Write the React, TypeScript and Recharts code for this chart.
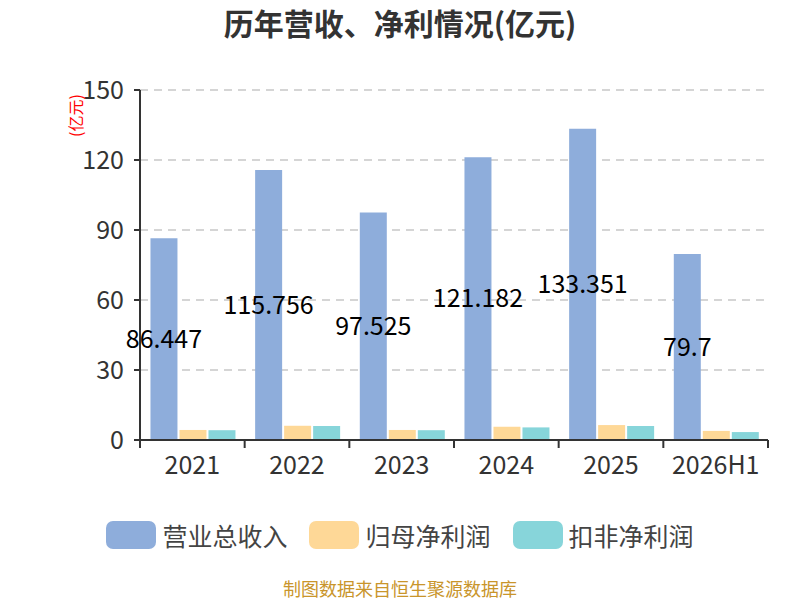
import React from "react";
import { BarChart, Bar, XAxis, YAxis, CartesianGrid, LabelList } from "recharts";

const categories = ["2021", "2022", "2023", "2024", "2025", "2026H1"];
const revenue = [86.447, 115.756, 97.525, 121.182, 133.351, 79.7];
const netProfit = [4.3, 6.1, 4.3, 5.7, 6.4, 3.9];
const deductedProfit = [4.2, 6.0, 4.2, 5.4, 6.0, 3.4];
const yTicks = [0, 30, 60, 90, 120, 150];

const seriesNames = ["营业总收入", "归母净利润", "扣非净利润"];
const colors = ["#8eaddb", "#fed897", "#87d5da"];

const data = categories.map((c, i) => ({
  name: c,
  rev: revenue[i],
  np: netProfit[i],
  dp: deductedProfit[i],
}));

const FONT = "'Noto Sans CJK SC', sans-serif";
const CJK = "'Noto Sans CJK SC', sans-serif";

const XTick = (props: any) => {
  const { x, y, payload, index } = props;
  const off = payload && typeof payload.offset === "number" ? payload.offset : 52.3;
  const last = index === categories.length - 1;
  return (
    <g>
      <line x1={x - off} x2={x - off} y1={y - 8} y2={y} stroke="#333" strokeWidth={2} />
      {last && <line x1={x + off} x2={x + off} y1={y - 8} y2={y} stroke="#333" strokeWidth={2} />}
      <text x={x} y={y + 26} textAnchor="middle" fill="#333" fontSize={25} fontFamily={FONT}>
        {payload.value}
      </text>
    </g>
  );
};

export default function App() {
  return (
    <div style={{ position: "absolute", left: 0, top: 0, width: 800, height: 600, background: "#fff" }}>
      <div
        style={{
          position: "absolute",
          top: 2,
          width: 800,
          textAlign: "center",
          fontFamily: CJK,
          fontWeight: "bold",
          fontSize: 30,
          lineHeight: "40px",
          color: "#333",
        }}
      >
        历年营收、净利情况(亿元)
      </div>
      <BarChart
        width={800}
        height={600}
        data={data}
        margin={{ top: 90, right: 32, bottom: 100, left: 0 }}
        barCategoryGap="10%"
        barGap={2}
      >
        <CartesianGrid vertical={false} stroke="#c8c8c8" strokeDasharray="8 6" strokeWidth={1.5} />
        <XAxis
          dataKey="name"
          tick={<XTick />}
          tickLine={false}
          axisLine={{ stroke: "#333", strokeWidth: 2 }}
          interval={0}
          height={60}
        />
        <YAxis
          width={140}
          domain={[0, 150]}
          ticks={yTicks}
          interval={0}
          tickLine={{ stroke: "#333", strokeWidth: 2 }}
          tickSize={6}
          tickMargin={10}
          axisLine={{ stroke: "#333", strokeWidth: 2 }}
          tick={{ fill: "#333", fontSize: 25, fontFamily: FONT }}
          label={{
            value: "(亿元)",
            angle: -90,
            position: "insideTopLeft",
            dx: 66,
            dy: 42,
            fill: "#ff0000",
            fontSize: 16,
            fontFamily: CJK,
          }}
        />
        <Bar dataKey="rev" name={seriesNames[0]} fill={colors[0]} isAnimationActive={false}>
          <LabelList dataKey="rev" position="center" fill="#000" fontSize={25} fontFamily={FONT} />
        </Bar>
        <Bar dataKey="np" name={seriesNames[1]} fill={colors[1]} isAnimationActive={false} />
        <Bar dataKey="dp" name={seriesNames[2]} fill={colors[2]} isAnimationActive={false} />
      </BarChart>
      <div
        style={{
          position: "absolute",
          top: 518,
          width: 800,
          display: "flex",
          justifyContent: "center",
          alignItems: "center",
          gap: 22,
          fontFamily: CJK,
        }}
      >
        {seriesNames.map((n, i) => (
          <div key={n} style={{ display: "flex", alignItems: "center" }}>
            <div style={{ width: 50, height: 28, borderRadius: 7, background: colors[i], marginRight: 6 }} />
            <span style={{ fontSize: 25, lineHeight: "34px", color: "#444" }}>{n}</span>
          </div>
        ))}
      </div>
      <div
        style={{
          position: "absolute",
          top: 576,
          width: 800,
          textAlign: "center",
          fontFamily: CJK,
          fontSize: 18,
          lineHeight: "24px",
          color: "#c9952b",
        }}
      >
        制图数据来自恒生聚源数据库
      </div>
    </div>
  );
}
